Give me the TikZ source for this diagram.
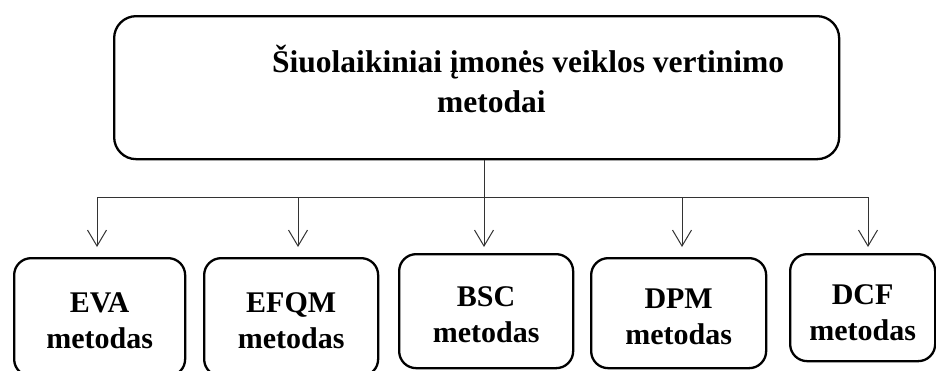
\documentclass[tikz,border=0pt]{standalone}
\usepackage{fontspec}
\setmainfont{Liberation Serif}
\usetikzlibrary{arrows.meta}
\tikzset{
  bigbox/.style={draw=black, line width=2.3pt, rounded corners=22pt, anchor=north west, inner sep=0pt},
  smallbox/.style={draw=black, line width=2.3pt, rounded corners=17pt, anchor=north west, inner sep=0pt, align=center,
     font=\fontsize{30}{36}\selectfont\bfseries},
  titletext/.style={anchor=base west, inner sep=0pt, font=\fontsize{31.5}{40}\selectfont\bfseries},
  conn/.style={draw=black!80, line width=1pt},
  arr/.style={conn, -{Straight Barb[length=16pt, width=19pt, line width=1pt]}},
}
\begin{document}
\begin{tikzpicture}[x=1pt,y=-1pt]
\clip (0,0) rectangle (936,370);
\fill[white] (0,0) rectangle (936,370);
% top box
\node[bigbox, minimum width=725pt, minimum height=143pt] (top) at (113,15) {};
\node[titletext] (t1) at (272,72) {Šiuolaikiniai įmonės veiklos vertinimo};
\node[titletext] (t2) at (437,112) {metodai};
% bottom boxes
\node[smallbox, minimum width=171pt, minimum height=118pt] (eva) at (13,257) {\rule{0pt}{26pt}EVA\\metodas};
\node[smallbox, minimum width=174pt, minimum height=118pt] (efqm) at (203,257) {\rule{0pt}{26pt}EFQM\\metodas};
\node[smallbox, minimum width=174pt, minimum height=114pt] (bsc) at (398,253) {\rule{0pt}{26pt}BSC\\metodas};
\node[smallbox, minimum width=175pt, minimum height=110pt] (dpm) at (590,257) {\rule{0pt}{26pt}DPM\\metodas};
\node[smallbox, minimum width=145pt, minimum height=107pt] (dcf) at (789,253) {\rule{0pt}{30pt}DCF\\metodas};
% connector points
\coordinate (a1) at (97,197);
\coordinate (a2) at (298,197);
\coordinate (a3) at (484,197);
\coordinate (a4) at (682,197);
\coordinate (a5) at (868,197);
\coordinate (tip1) at (97,247);
\coordinate (tip2) at (298,247);
\coordinate (tip3) at (484,247);
\coordinate (tip4) at (682,247);
\coordinate (tip5) at (868,247);
\draw[conn] (top.south -| a3) -- (a3);
\draw[conn] (a1) -- (a5);
\draw[arr] (a1) -- (tip1);
\draw[arr] (a2) -- (tip2);
\draw[arr] (a3) -- (tip3);
\draw[arr] (a4) -- (tip4);
\draw[arr] (a5) -- (tip5);
\end{tikzpicture}
\end{document}
